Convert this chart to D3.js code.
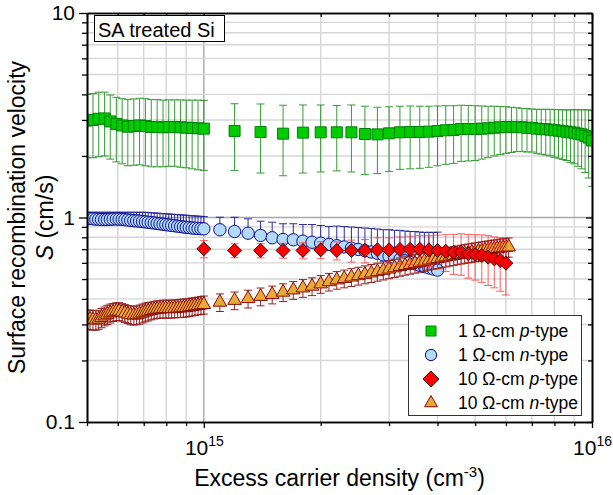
<!DOCTYPE html>
<html>
<head>
<meta charset="utf-8">
<script src="https://cdn.jsdelivr.net/npm/d3@7"></script>
<style>
  body { margin: 0; background: #fff; }
  svg { display: block; }
  text { font-family: "Liberation Sans", Arial, Helvetica, sans-serif; fill: #000; }
</style>
</head>
<body>
<svg id="chart" width="613" height="495"></svg>
<script>
// Excess carrier density in units of 1e15 cm^-3, S in cm/s.

// 1 Ω-cm p-type
const pLowX = [0.500,0.518,0.536,0.555,0.574,0.595,0.616,0.637,0.660,0.683,0.707,0.732,0.758,0.785,0.812,0.841,0.871,0.901,0.933,0.966,1.000,
  1.2,1.4,1.6,1.8,2.0,2.2,2.4,2.6,2.8,3.0,3.2,3.4,3.6,3.8,4.0,4.2,4.4,4.6,4.8,5.0,5.2,5.4,5.6,5.8,6.0,
  6.2,6.4,6.6,6.8,7.0,7.2,7.4,7.6,7.8,8.0,8.2,8.4,8.6,8.8,9.0,9.2,9.4,9.6,9.8,10.0];
const pLowS = [2.98,3.00,3.04,3.05,2.95,2.87,2.82,2.78,2.80,2.82,2.80,2.77,2.77,2.76,2.77,2.77,2.76,2.75,2.74,2.73,2.72,
  2.65,2.62,2.57,2.60,2.61,2.61,2.61,2.56,2.55,2.58,2.61,2.62,2.62,2.63,2.65,2.67,2.68,2.71,2.71,2.71,2.72,2.73,2.75,2.76,2.77,
  2.77,2.77,2.76,2.75,2.74,2.72,2.71,2.70,2.69,2.67,2.66,2.64,2.63,2.61,2.60,2.57,2.55,2.51,2.46,2.38];
const pLowErr = [1.02,1.04,1.06,1.05,1.02,1.00,0.99,0.99,1.00,1.01,1.01,1.00,1.00,0.99,0.99,0.99,1.00,1.00,1.01,1.02,1.02,
  0.95,0.97,0.97,0.95,0.94,0.92,0.94,0.94,0.91,0.90,0.89,0.89,0.88,0.87,0.86,0.85,0.84,0.83,0.82,0.81,0.79,0.77,0.75,0.73,0.71,
  0.69,0.67,0.66,0.66,0.65,0.66,0.67,0.68,0.69,0.70,0.71,0.72,0.73,0.75,0.77,0.79,0.82,0.85,0.90,0.96];

// 1 Ω-cm n-type (upper error only)
const nLowX = [0.500,0.509,0.518,0.527,0.536,0.545,0.555,0.564,0.574,0.584,0.595,0.605,0.616,0.626,0.637,0.648,0.660,0.671,0.683,0.695,0.707,
  0.719,0.732,0.745,0.758,0.771,0.785,0.798,0.812,0.826,0.841,0.856,0.871,0.886,0.901,0.917,0.933,0.949,0.966,0.983,1.000,
  1.1,1.2,1.3,1.4,1.5,1.6,1.7,1.8,1.9,2.0,2.1,2.2,2.3,2.4,2.5,2.6,2.7,2.8,2.9,3.0,3.1,3.2,3.3,3.4,3.5,3.6,3.7,3.8,3.9,4.0];
const nLowS = [0.990,0.988,0.985,0.982,0.980,0.978,0.977,0.978,0.980,0.982,0.983,0.982,0.980,0.976,0.972,0.968,0.965,0.962,0.960,0.956,0.952,
  0.948,0.944,0.940,0.935,0.931,0.927,0.923,0.919,0.915,0.911,0.907,0.903,0.899,0.895,0.892,0.889,0.886,0.884,0.882,0.880,
  0.871,0.854,0.838,0.817,0.796,0.781,0.778,0.766,0.757,0.749,0.738,0.728,0.718,0.708,0.698,0.688,0.678,0.668,0.657,0.647,
  0.636,0.625,0.614,0.604,0.594,0.584,0.575,0.567,0.560,0.553];
const nLowErr = [0.070,0.072,0.075,0.078,0.080,0.082,0.083,0.082,0.080,0.078,0.077,0.078,0.080,0.084,0.088,0.092,0.095,0.098,0.100,0.104,0.108,
  0.110,0.111,0.113,0.115,0.116,0.118,0.120,0.121,0.123,0.124,0.126,0.127,0.129,0.130,0.131,0.131,0.132,0.131,0.131,0.130,
  0.132,0.149,0.147,0.142,0.152,0.151,0.154,0.158,0.167,0.165,0.166,0.180,0.185,0.190,0.195,0.200,0.205,0.210,0.215,0.225,
  0.230,0.240,0.245,0.250,0.260,0.265,0.270,0.280,0.285,0.295];

// 10 Ω-cm p-type
const pHighX = [1.0,1.2,1.4,1.6,1.8,2.0,2.2,2.4,2.6,2.8,3.0,3.2,3.4,3.6,3.8,4.0,4.2,4.4,4.6,4.8,5.0,5.2,5.4,5.6,5.8,6.0];
const pHighS = [0.703,0.690,0.690,0.690,0.690,0.695,0.690,0.690,0.690,0.695,0.695,0.698,0.700,0.700,0.695,0.690,0.684,0.677,0.677,0.665,
  0.659,0.652,0.640,0.628,0.616,0.598];
const pHighErr = [0.068,0.054,0.055,0.058,0.062,0.066,0.070,0.085,0.090,0.100,0.100,0.105,0.110,0.115,0.120,0.130,0.140,0.150,0.155,0.160,
  0.165,0.170,0.175,0.175,0.180,0.180];

// 10 Ω-cm n-type
const nHighX = [0.500,0.509,0.518,0.527,0.536,0.545,0.555,0.564,0.574,0.584,0.595,0.605,0.616,0.626,0.637,0.648,0.660,0.671,0.683,0.695,0.707,
  0.719,0.732,0.745,0.758,0.771,0.785,0.798,0.812,0.826,0.841,0.856,0.871,0.886,0.901,0.917,0.933,0.949,0.966,0.983,1.000,
  1.1,1.2,1.3,1.4,1.5,1.6,1.7,1.8,1.9,2.0,2.1,2.2,2.3,2.4,2.5,2.6,2.7,2.8,2.9,3.0,3.1,3.2,3.3,3.4,3.5,3.6,3.7,3.8,3.9,4.0,
  4.1,4.2,4.3,4.4,4.5,4.6,4.7,4.8,4.9,5.0,5.1,5.2,5.3,5.4,5.5,5.6,5.7,5.8,5.9,6.0,6.1];
const nHighS = [0.318,0.318,0.316,0.315,0.318,0.324,0.330,0.336,0.341,0.345,0.348,0.348,0.345,0.341,0.337,0.334,0.333,0.334,0.337,0.341,0.345,
  0.348,0.351,0.354,0.356,0.357,0.358,0.358,0.358,0.358,0.359,0.360,0.361,0.362,0.363,0.365,0.367,0.369,0.371,0.373,0.375,
  0.385,0.393,0.401,0.411,0.420,0.431,0.442,0.452,0.461,0.473,0.485,0.495,0.503,0.511,0.519,0.527,0.535,0.543,0.551,0.559,
  0.567,0.575,0.582,0.589,0.596,0.603,0.610,0.618,0.624,0.630,0.635,0.641,0.646,0.652,0.657,0.662,0.667,0.671,0.675,0.679,
  0.683,0.687,0.691,0.694,0.698,0.701,0.704,0.708,0.711,0.714,0.717];
const nHighErr = [0.034,0.035,0.035,0.034,0.034,0.035,0.035,0.036,0.036,0.035,0.035,0.035,0.034,0.034,0.034,0.035,0.035,0.035,0.036,0.036,
  0.036,0.036,0.035,0.035,0.035,0.035,0.036,0.036,0.036,0.036,0.036,0.036,0.037,0.037,0.037,0.037,0.037,0.037,0.037,0.038,0.038,
  0.038,0.039,0.040,0.041,0.042,0.043,0.044,0.045,0.046,0.047,0.048,0.049,0.050,0.051,0.052,0.053,0.054,0.055,0.056,0.057,
  0.058,0.059,0.060,0.061,0.062,0.063,0.064,0.065,0.066,0.067,0.067,0.068,0.068,0.069,0.069,0.070,0.070,0.071,0.071,0.072,
  0.072,0.073,0.073,0.074,0.074,0.075,0.075,0.076,0.076,0.077,0.077];

// Axis ticks and labels
const xTicks = [0.5,0.6,0.7,0.8,0.9,1,2,3,4,5,6,7,8,9,10];
const xMajor = [1, 10];
const xMajorBase = ["10", "10"];
const xMajorExp = ["15", "16"];
const yTicks = [0.1,0.2,0.3,0.4,0.5,0.6,0.7,0.8,0.9,1,2,3,4,5,6,7,8,9,10];
const yMajor = [0.1, 1, 10];
const yMajorLabels = ["0.1", "1", "10"];

// Legend entries (top to bottom)
const legendResist = ["1", "1", "10", "10"];
const legendType = ["p", "n", "p", "n"];

// ---------------------------------------------------------------
const svg = d3.select("#chart");
const L = 87, R = 592, T = 13, B = 422;
const x = d3.scaleLog().domain([0.5, 10]).range([L, R]);
const y = d3.scaleLog().domain([0.1, 10]).range([B, T]);

const isMajorX = v => xMajor.includes(v);
const isMajorY = v => yMajor.includes(v);

// grid
const grid = svg.append("g");
grid.selectAll("line.vx").data(xTicks.filter(v => v > 0.5 && v < 10)).join("line")
  .attr("x1", d => x(d)).attr("x2", d => x(d)).attr("y1", T).attr("y2", B)
  .attr("stroke", d => isMajorX(d) ? "#a8a8a8" : "#d6d6d6").attr("stroke-width", 1.4);
grid.selectAll("line.hy").data(yTicks.filter(v => v > 0.1 && v < 10)).join("line")
  .attr("y1", d => y(d)).attr("y2", d => y(d)).attr("x1", L).attr("x2", R)
  .attr("stroke", d => isMajorY(d) ? "#a8a8a8" : "#d6d6d6").attr("stroke-width", 1.4);

// data, clipped to the frame
svg.append("clipPath").attr("id", "plotclip").append("rect")
  .attr("x", L).attr("y", T).attr("width", R - L).attr("height", B - T);
const plot = svg.append("g").attr("clip-path", "url(#plotclip)");

const sqSym = d3.symbol(d3.symbolSquare, 121)();
const ciSym = d3.symbol(d3.symbolCircle, 120)();
const trSym = d3.symbol(d3.symbolTriangle, 80)();
const diSym = "M0,-7L7,0L0,7L-7,0Z";

const pLowStyle = { fill: "#00cc00", stroke: "#00800a", sw: 1, ecol: "#138a13", eop: 0.85 };
const nLowStyle = { fill: "#b3dbf7", stroke: "#0a0a96", sw: 1, ecol: "#0a0a8c", eop: 0.85 };
const pHighStyle = { fill: "#ff0000", stroke: "#000000", sw: 0.8, ecol: "#ff2a2a", eop: 0.75 };
const nHighStyle = { fill: "#e6aa36", stroke: "#8b0a0a", sw: 1, ecol: "#8b0a0a", eop: 0.9 };

// drawing order: green, blue, orange, red
const series = [
  { x: pLowX, s: pLowS, e: pLowErr, lowerBar: true, sym: sqSym, st: pLowStyle },
  { x: nLowX, s: nLowS, e: nLowErr, lowerBar: false, sym: ciSym, st: nLowStyle },
  { x: nHighX, s: nHighS, e: nHighErr, lowerBar: true, sym: trSym, st: nHighStyle },
  { x: pHighX, s: pHighS, e: pHighErr, lowerBar: true, sym: diSym, st: pHighStyle }
];
const capW = 4;
series.forEach(sr => {
  const pts = sr.x.map((v, i) => ({ x: v, s: sr.s[i], e: sr.e[i] }));
  const g = plot.append("g");
  const eb = g.append("g").attr("stroke", sr.st.ecol).attr("stroke-width", 1)
    .attr("opacity", sr.st.eop).attr("fill", "none");
  pts.forEach(p => {
    const yt = y(p.s + p.e), yb = sr.lowerBar ? y(p.s - p.e) : y(p.s), xc = x(p.x);
    eb.append("line").attr("x1", xc).attr("x2", xc).attr("y1", yt).attr("y2", yb);
    eb.append("line").attr("x1", xc - capW).attr("x2", xc + capW).attr("y1", yt).attr("y2", yt);
    if (sr.lowerBar) eb.append("line").attr("x1", xc - capW).attr("x2", xc + capW).attr("y1", yb).attr("y2", yb);
  });
  g.append("g").selectAll("path").data(pts).join("path")
    .attr("d", sr.sym)
    .attr("transform", d => `translate(${x(d.x)},${y(d.s)})`)
    .attr("fill", sr.st.fill).attr("stroke", sr.st.stroke).attr("stroke-width", sr.st.sw);
});

// axes
const axStyle = g => {
  g.select(".domain").attr("stroke", "#000").attr("stroke-width", 1.6);
  g.selectAll(".tick line").attr("stroke", "#000").attr("stroke-width", 1.3);
};
const xMinorTicks = xTicks.filter(v => !isMajorX(v));
const yMinorTicks = yTicks.filter(v => !isMajorY(v));

svg.append("g").attr("transform", `translate(0,${B})`)
  .call(d3.axisBottom(x).tickValues(xMinorTicks).tickSize(4).tickSizeOuter(0).tickFormat("")).call(axStyle);
const xAxMaj = svg.append("g").attr("transform", `translate(0,${B})`)
  .call(d3.axisBottom(x).tickValues(xMajor).tickSize(6).tickSizeOuter(0).tickFormat("")).call(axStyle);
xAxMaj.selectAll(".tick text").remove();
xAxMaj.selectAll(".tick").each(function(d, i) {
  const t = d3.select(this).append("text")
    .attr("x", 0).attr("y", 33).attr("text-anchor", "middle")
    .attr("font-size", 21).attr("fill", "#000");
  t.append("tspan").text(xMajorBase[i]);
  t.append("tspan").attr("dy", -9).attr("font-size", 14).text(xMajorExp[i]);
});

svg.append("g").attr("transform", `translate(0,${T})`)
  .call(d3.axisTop(x).tickValues(xMinorTicks).tickSize(-4).tickSizeOuter(0).tickFormat("")).call(axStyle);
svg.append("g").attr("transform", `translate(0,${T})`)
  .call(d3.axisTop(x).tickValues(xMajor).tickSize(-6).tickSizeOuter(0).tickFormat("")).call(axStyle);

svg.append("g").attr("transform", `translate(${L},0)`)
  .call(d3.axisLeft(y).tickValues(yMinorTicks).tickSize(5).tickSizeOuter(0).tickFormat("")).call(axStyle);
svg.append("g").attr("transform", `translate(${L},0)`)
  .call(d3.axisLeft(y).tickValues(yMajor).tickSize(8).tickSizeOuter(0)
    .tickFormat((d, i) => yMajorLabels[i]).tickPadding(4)).call(axStyle)
  .selectAll(".tick text").attr("font-size", 21).attr("fill", "#000")
  .attr("font-family", '"Liberation Sans", Arial, sans-serif');

svg.append("g").attr("transform", `translate(${R},0)`)
  .call(d3.axisRight(y).tickValues(yMinorTicks).tickSize(-4).tickSizeOuter(0).tickFormat("")).call(axStyle);
svg.append("g").attr("transform", `translate(${R},0)`)
  .call(d3.axisRight(y).tickValues(yMajor).tickSize(-6).tickSizeOuter(0).tickFormat("")).call(axStyle);

// axis titles
const xt = svg.append("text").attr("x", (L + R) / 2).attr("y", 486).attr("text-anchor", "middle").attr("font-size", 23);
xt.append("tspan").text("Excess carrier density (cm");
xt.append("tspan").attr("dy", -9).attr("font-size", 15).text("-3");
xt.append("tspan").attr("dy", 9).text(")");

const ymid = (T + B) / 2;
svg.append("text").attr("transform", `translate(25,${ymid}) rotate(-90)`)
  .attr("text-anchor", "middle").attr("font-size", 23).text("Surface recombination velocity");
const yt2 = svg.append("text").attr("transform", `translate(53,${ymid}) rotate(-90)`)
  .attr("text-anchor", "middle").attr("font-size", 23);
yt2.append("tspan").attr("font-style", "italic").text("S");
yt2.append("tspan").text(" (cm/s)");

// sample label
svg.append("rect").attr("x", 94.5).attr("y", 15.5).attr("width", 130).attr("height", 26)
  .attr("fill", "#fff").attr("stroke", "#000").attr("stroke-width", 1);
svg.append("text").attr("x", 98).attr("y", 37).attr("font-size", 20).text("SA treated Si");

// legend
const lg = svg.append("g");
lg.append("rect").attr("x", 408.5).attr("y", 315.5).attr("width", 173).attr("height", 100)
  .attr("fill", "#fff").attr("stroke", "#333").attr("stroke-width", 1);
const legendRows = [
  { sym: d3.symbol(d3.symbolSquare, 100)(), st: pLowStyle },
  { sym: d3.symbol(d3.symbolCircle, 100)(), st: nLowStyle },
  { sym: "M0,-8L8,0L0,8L-8,0Z", st: pHighStyle },
  { sym: d3.symbol(d3.symbolTriangle, 72)(), st: nHighStyle }
];
legendRows.forEach((row, i) => {
  const cy = 331 + i * 24;
  lg.append("path").attr("d", row.sym).attr("transform", `translate(431,${cy})`)
    .attr("fill", row.st.fill).attr("stroke", row.st.stroke).attr("stroke-width", row.st.sw);
  const t = lg.append("text").attr("x", 458).attr("y", cy + 6).attr("font-size", 17.5);
  t.append("tspan").text(`${legendResist[i]} Ω-cm `);
  t.append("tspan").attr("font-style", "italic").text(legendType[i]);
  t.append("tspan").text("-type");
});
</script>
</body>
</html>
